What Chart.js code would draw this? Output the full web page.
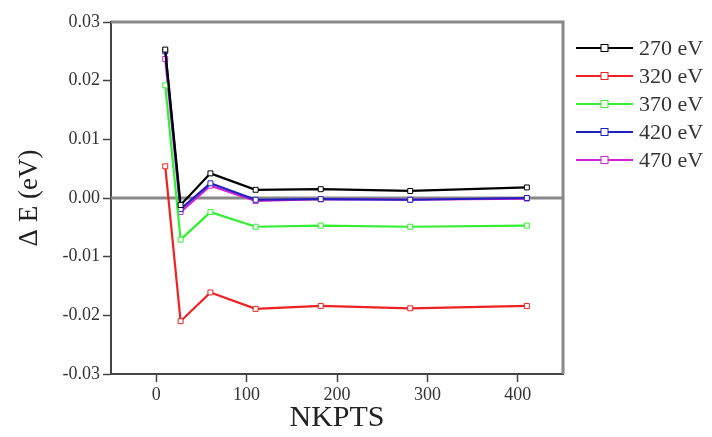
<!DOCTYPE html>
<html>
<head>
<meta charset="utf-8">
<script src="https://cdn.jsdelivr.net/npm/chart.js@4/dist/chart.umd.min.js"></script>
<style>
  html, body { margin: 0; padding: 0; background: #fff; }
  #wrap { width: 712px; height: 437px; }
</style>
</head>
<body>
<div id="wrap"><canvas id="chart" width="712" height="437"></canvas></div>
<script>
const nkpts = [10, 27, 60, 110, 182, 281, 410];
const e270 = [0.0253, -0.0012, 0.0042, 0.0014, 0.0015, 0.0012, 0.0018];
const e320 = [0.0054, -0.0210, -0.0161, -0.0189, -0.0184, -0.0188, -0.0184];
const e370 = [0.0192, -0.0071, -0.0024, -0.0049, -0.0047, -0.0049, -0.0047];
const e420 = [0.0250, -0.0019, 0.0025, -0.0003, -0.0002, -0.0003, 0.0000];
const e470 = [0.0237, -0.0024, 0.0021, -0.0005, -0.0002, -0.0003, -0.0001];
const seriesLabels = ['270 eV', '320 eV', '370 eV', '420 eV', '470 eV'];
const seriesColors = ['#000000', '#ee2222', '#33ee33', '#2020c0', '#d020d0'];
const xTicks = [0, 100, 200, 300, 400];
const yTicks = [-0.03, -0.02, -0.01, 0.00, 0.01, 0.02, 0.03];

const SERIF = "'Liberation Serif', 'DejaVu Serif', serif";
const TEXT = '#333333';

function makeDataset(label, values, color) {
  return {
    label,
    data: nkpts.map((x, i) => ({ x, y: values[i] })),
    showLine: true,
    borderColor: color,
    backgroundColor: color,
    borderWidth: 2.2,
    pointStyle: 'rect',
    pointRadius: 3.5,
    pointBorderWidth: 1,
    pointBackgroundColor: '#ffffff',
    pointBorderColor: color,
  };
}

const frame = {
  id: 'frame',
  beforeDatasetsDraw(chart) {
    const { ctx, chartArea: a, scales } = chart;
    ctx.save();
    ctx.strokeStyle = '#888888';
    ctx.lineWidth = 3;
    ctx.beginPath();
    ctx.moveTo(a.left, a.top);
    ctx.lineTo(a.right, a.top);
    ctx.lineTo(a.right, a.bottom);
    ctx.stroke();
    const y0 = scales.y.getPixelForValue(0);
    ctx.beginPath();
    ctx.moveTo(a.left, y0);
    ctx.lineTo(a.right, y0);
    ctx.stroke();
    ctx.restore();
  },
};

const sideLegend = {
  id: 'sideLegend',
  afterDraw(chart) {
    const { ctx, chartArea: a } = chart;
    const x0 = a.right + 13;
    const x1 = x0 + 57;
    ctx.save();
    ctx.font = `22px ${SERIF}`;
    ctx.textBaseline = 'middle';
    chart.data.datasets.forEach((ds, i) => {
      const y = a.top + 26 + i * 28;
      ctx.strokeStyle = ds.borderColor;
      ctx.lineWidth = 2;
      ctx.beginPath();
      ctx.moveTo(x0, y);
      ctx.lineTo(x1, y);
      ctx.stroke();
      const mx = (x0 + x1) / 2;
      ctx.fillStyle = '#ffffff';
      ctx.fillRect(mx - 3.5, y - 3.5, 7, 7);
      ctx.lineWidth = 1;
      ctx.strokeRect(mx - 3.5, y - 3.5, 7, 7);
      ctx.fillStyle = TEXT;
      ctx.fillText(ds.label, x1 + 6, y + 1);
    });
    ctx.restore();
  },
};

new Chart(document.getElementById('chart').getContext('2d'), {
  type: 'scatter',
  data: {
    datasets: [
      makeDataset(seriesLabels[0], e270, seriesColors[0]),
      makeDataset(seriesLabels[1], e320, seriesColors[1]),
      makeDataset(seriesLabels[2], e370, seriesColors[2]),
      makeDataset(seriesLabels[3], e420, seriesColors[3]),
      makeDataset(seriesLabels[4], e470, seriesColors[4]),
    ],
  },
  options: {
    responsive: false,
    animation: false,
    layout: { padding: { left: 0, right: 149, top: 22, bottom: 0 } },
    plugins: {
      legend: { display: false },
      tooltip: { enabled: false },
    },
    scales: {
      x: {
        type: 'linear',
        min: -50,
        max: 450,
        afterBuildTicks(axis) { axis.ticks = xTicks.map((value) => ({ value })); },
        afterFit(axis) { axis.height = 63; },
        border: { display: true, color: '#444444', width: 2 },
        grid: { drawOnChartArea: false, drawTicks: true, tickLength: 8, tickColor: '#444444', tickWidth: 1.5 },
        ticks: { color: TEXT, font: { family: SERIF, size: 18 }, padding: 2 },
        title: { display: true, text: 'NKPTS', color: '#222222', font: { family: SERIF, size: 30 }, padding: { top: 0, bottom: 1 } },
      },
      y: {
        min: -0.03,
        max: 0.03,
        afterBuildTicks(axis) { axis.ticks = yTicks.map((value) => ({ value })); },
        afterFit(axis) { axis.width = 111; },
        border: { display: true, color: '#444444', width: 2 },
        grid: { drawOnChartArea: false, drawTicks: true, tickLength: 8, tickColor: '#444444', tickWidth: 1.5 },
        ticks: {
          color: TEXT,
          font: { family: SERIF, size: 18 },
          padding: 3,
          callback: (v) => Number(v).toFixed(2),
        },
        title: { display: true, text: 'Δ E (eV)', color: '#222222', font: { family: SERIF, size: 27 }, padding: { top: 14, bottom: 0 } },
      },
    },
  },
  plugins: [frame, sideLegend],
});
</script>
</body>
</html>
